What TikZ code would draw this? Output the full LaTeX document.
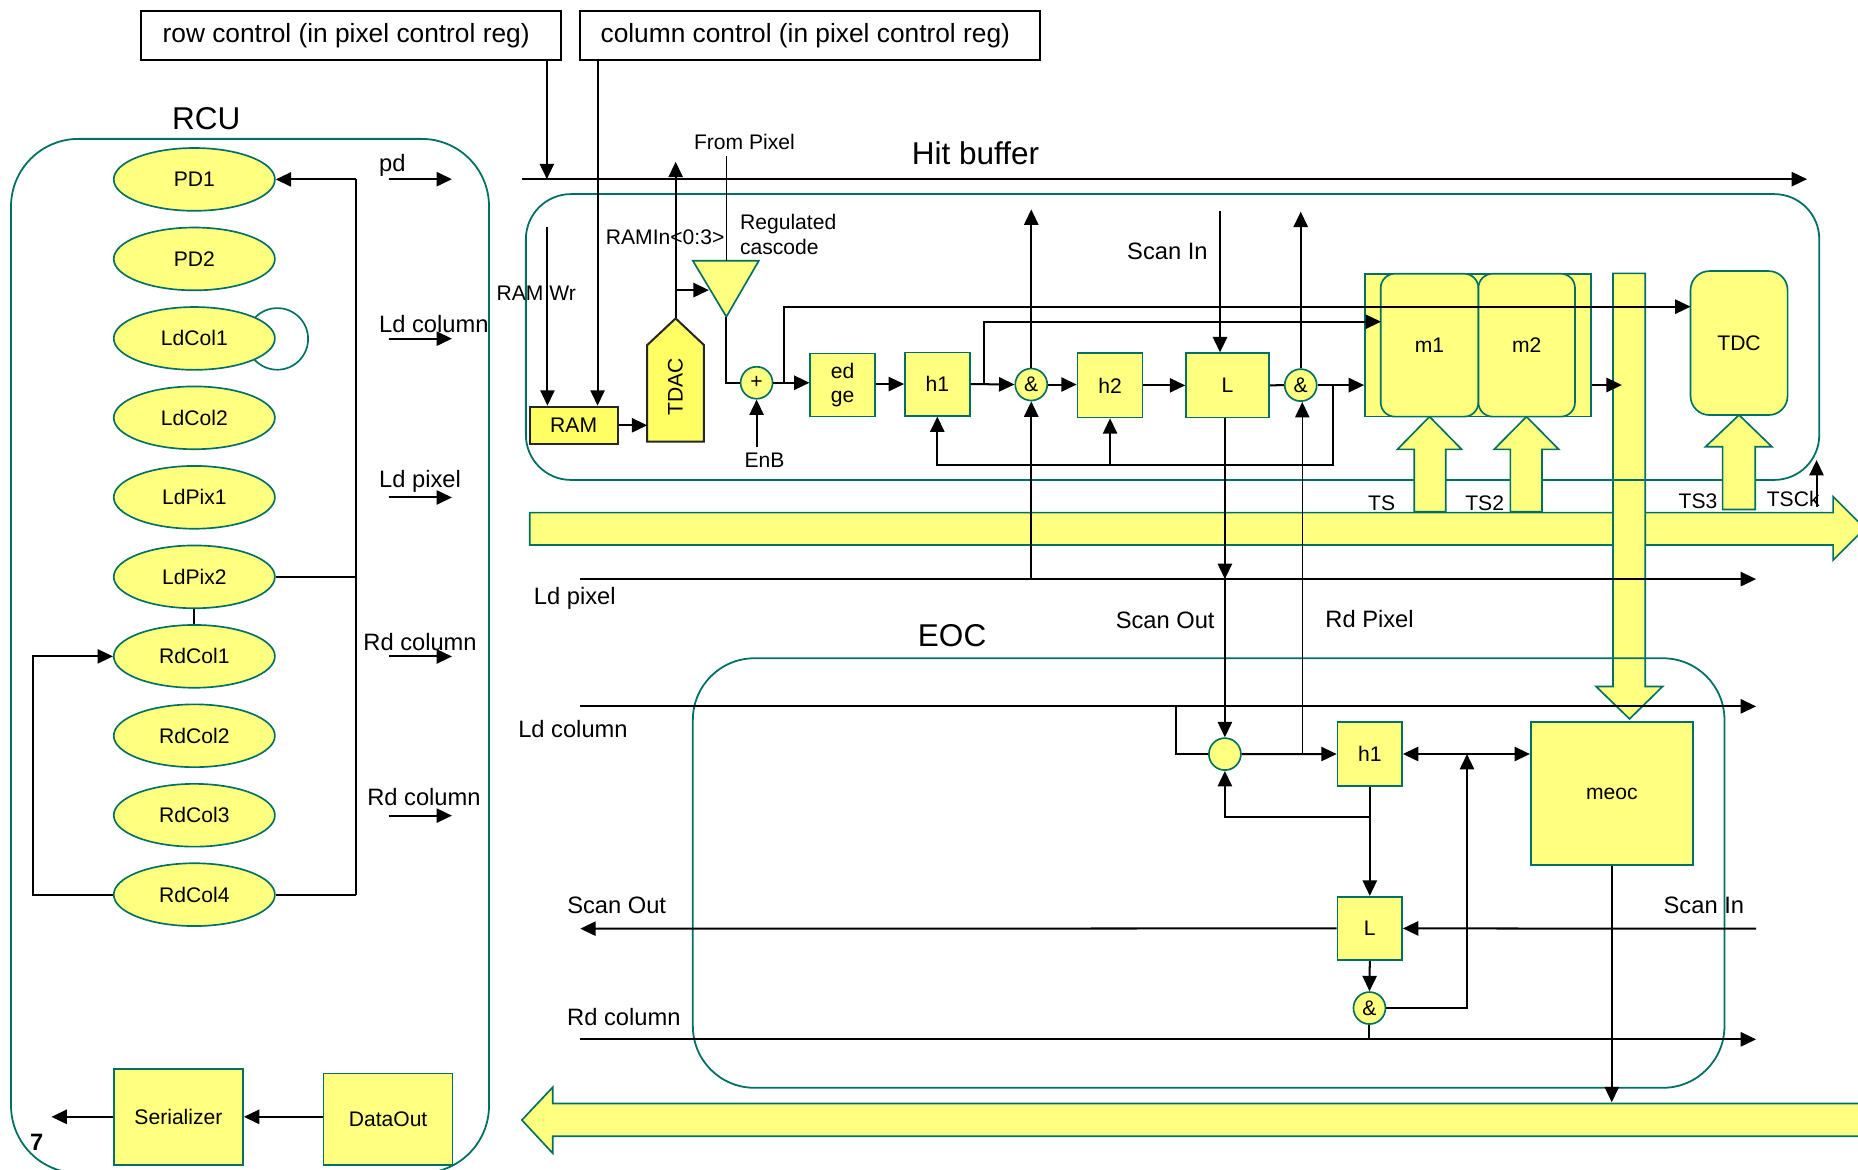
\documentclass[tikz,border=0pt]{standalone}
\usepackage{fontspec}
\setmainfont{Liberation Sans}
\usetikzlibrary{arrows.meta,shapes.geometric}
\definecolor{ly}{RGB}{255,255,128}
\definecolor{by}{RGB}{255,255,100}
\definecolor{tl}{RGB}{0,112,100}
\newcommand\FontA{\fontsize{8.9pt}{10.5pt}\selectfont}
\newcommand\FontB{\fontsize{10pt}{12pt}\selectfont}
\newcommand\FontC{\fontsize{11.1pt}{13pt}\selectfont}
\newcommand\FontD{\fontsize{13.3pt}{16pt}\selectfont}
\begin{document}
\begin{tikzpicture}[x=0.5pt,y=-0.5pt,
  >={Triangle[length=6.5pt,width=6pt]},
  sig/.style={draw=black,line width=0.85pt},
  ar/.style={sig,->},
  dar/.style={sig,<->},
  thinar/.style={draw=black,line width=0.6pt,->},
  yb/.style={draw=tl,fill=ly,line width=0.7pt},
  tlbox/.style={draw=tl,line width=0.75pt},
  topbox/.style={draw=black,line width=0.85pt,inner sep=0pt,font=\FontC},
  ttl/.style={inner sep=0pt,font=\FontD},
  lbl/.style={inner sep=0pt,font=\FontB},
  slbl/.style={inner sep=0pt,font=\FontA},
  ell/.style={ellipse,draw=tl,fill=ly,line width=0.7pt,minimum width=68pt,minimum height=26.5pt,inner sep=0pt,font=\FontA},
  ybox/.style={yb,inner sep=0pt,font=\FontA},
  bbox/.style={draw=black!85,fill=by,line width=0.85pt,inner sep=0pt,font=\FontA},
  gate/.style={circle,yb,minimum size=13.5pt,inner sep=0pt,font=\FontA}]
\fill[white] (0,0) rectangle (1568,987);
\useasboundingbox (0,0) rectangle (1568,987);
\clip (0,0) rectangle (1568,987);

% ---------- big yellow bus arrows ----------
\draw[yb] (447,432.6) -- (1547,432.6) -- (1547,419.1) -- (1573.8,445.9) -- (1547,472.6) -- (1547,459.9) -- (447,459.9) -- cycle;
\draw[yb] (1590,931.3) -- (466.5,931.3) -- (466.5,917.5) -- (440.4,945.2) -- (466.5,973.3) -- (466.5,958.9) -- (1590,958.9) -- cycle;
\draw[yb] (1361.2,230.7) -- (1388.5,230.7) -- (1388.5,579.4) -- (1403,579.4) -- (1375.2,606.7) -- (1347,579.4) -- (1361.2,579.4) -- cycle;

% ---------- outlines ----------
\draw[tlbox,rounded corners=28.5pt] (9.3,117.2) rectangle (412.7,990);
\draw[tlbox,rounded corners=19pt] (443.8,163.8) rectangle (1535.3,405);
\draw[tlbox,rounded corners=26pt] (584.7,555.5) rectangle (1455.3,918);

% ---------- TS block arrows ----------
\draw[yb] (1193.5,431.8) -- (1193.5,379.2) -- (1179.3,379.2) -- (1206.4,351.6) -- (1233.5,379.2) -- (1220.1,379.2) -- (1220.1,431.8) -- cycle;
\draw[yb] (1274.6,431.8) -- (1274.6,379.2) -- (1260.9,379.2) -- (1288.2,351.6) -- (1315.4,379.2) -- (1301.3,379.2) -- (1301.3,431.8) -- cycle;
\draw[yb] (1453.7,430) -- (1453.7,377) -- (1439.3,377) -- (1467.6,350.2) -- (1495.3,377) -- (1481.2,377) -- (1481.2,430) -- cycle;

% ---------- titles and top boxes ----------
\node[topbox,minimum width=177pt,minimum height=20.85pt] (rowc) at (296.1,29.8) {\hspace*{-4pt}row control (in pixel control reg)};
\node[topbox,minimum width=194.1pt,minimum height=20.85pt] (colc) at (683.6,29.8) {\hspace*{-4pt}column control (in pixel control reg)};
\node[ttl] (rcuT) at (174,100) {RCU};
\node[ttl] (hbT) at (823.2,129.4) {Hit buffer};
\node[ttl] (eocT) at (803.5,536) {EOC};

% ---------- RCU ----------
\draw[tl,line width=0.7pt] (234,286) circle [radius=13pt];
\node[ell] (pd1) at (164,151.4) {PD1};
\node[ell] (pd2) at (164,218.5) {PD2};
\node[ell] (ldcol1) at (164,285.6) {LdCol1};
\node[ell] (ldcol2) at (164,352.6) {LdCol2};
\node[ell] (ldpix1) at (164,419.7) {LdPix1};
\node[ell] (ldpix2) at (164,486.8) {LdPix2};
\node[ell] (rdcol1) at (164,553.9) {RdCol1};
\node[ell] (rdcol2) at (164,620.9) {RdCol2};
\node[ell] (rdcol3) at (164,688) {RdCol3};
\node[ell] (rdcol4) at (164,755) {RdCol4};

\coordinate (busT) at (300.3,151.4);
\coordinate (busB) at (300.3,755);
\draw[ar] (busT) -- (pd1.east);
\draw[sig] (busT) -- (busB);
\draw[sig] (ldpix2.east) -- (ldpix2.east -| busT);
\draw[sig] (rdcol4.east) -- (busB);
\draw[sig] (ldpix2.south) -- (rdcol1.north);
\draw[ar] (rdcol4.west) -- ++(-67.7,0) |- (rdcol1.west);

\coordinate (a1s) at (328,151.2); \coordinate (a1e) at (381.4,151.2);
\coordinate (a2s) at (328,285.8); \coordinate (a2e) at (381.4,285.8);
\coordinate (a3s) at (328,419.8); \coordinate (a3e) at (381.4,419.8);
\coordinate (a4s) at (328,554);   \coordinate (a4e) at (381.4,554);
\coordinate (a5s) at (328,688.3); \coordinate (a5e) at (381.4,688.3);
\draw[ar] (a1s) -- (a1e);
\draw[ar] (a2s) -- (a2e);
\draw[ar] (a3s) -- (a3e);
\draw[ar] (a4s) -- (a4e);
\draw[ar] (a5s) -- (a5e);
\node[lbl,anchor=west] (lpd) at (319.6,139.5) {pd};
\node[lbl,anchor=west] (lldc) at (319.6,273.8) {Ld column};
\node[lbl,anchor=west] (lldp) at (319.6,406.5) {Ld pixel};
\node[lbl,anchor=west] (lrdc1) at (306.3,542.2) {Rd column};
\node[lbl,anchor=west] (lrdc2) at (309.6,672.2) {Rd column};

\node[ybox,minimum width=54.5pt,minimum height=40.5pt] (ser) at (150.6,942.5) {Serializer};
\node[ybox,minimum width=54.5pt,minimum height=38.5pt] (dout) at (327.5,944.5) {DataOut};
\coordinate (serOut) at (43.4,942.5);
\draw[ar] (dout.west |- ser.east) -- (ser.east);
\draw[ar] (ser.west) -- (serOut);
\node[inner sep=0pt,font=\FontB\bfseries] (seven) at (31,964) {7};

% ---------- Hit buffer ----------
\coordinate (pdL) at (440.4,151.2);
\coordinate (pdR) at (1525,151.2);
\coordinate (rowx) at (461.5,0);
\coordinate (colx) at (504.3,0);

\node[bbox,minimum width=37.1pt,minimum height=15.7pt] (ram) at (484.1,358.9) {RAM};
\draw[draw=black!85,fill=by,line width=0.85pt] (546.2,372.7) -- (546.2,291.2) -- (570.2,268.7) -- (594.1,291.2) -- (594.1,372.7) -- cycle;
\node[slbl,rotate=90] (tdac) at (570,326.5) {TDAC};
\coordinate (tdacTip) at (570.2,268.7);
\coordinate (tdacIn) at (546.2,358.9);
\coordinate (tdacBr) at (570.2,244.8);
\coordinate (ramInT) at (570.2,136.5);

\draw[yb] (584.7,220) -- (640.4,220) -- (613,267.3) -- cycle;
\coordinate (triTop) at (613,220);
\coordinate (triTip) at (613,267.3);
\coordinate (triIn) at (598.2,244.8);
\coordinate (fpT) at (613,131.7);

\node[gate] (plus) at (638.5,323) {+};
\node[ybox,minimum width=27.3pt,minimum height=26.7pt,align=center] (edge) at (711.1,324.9) {ed\\ge};
\node[ybox,minimum width=27.35pt,minimum height=26.7pt] (h1) at (791,324.1) {h1};
\node[gate] (and1) at (870.3,324.5) {\&};
\node[ybox,minimum width=27.5pt,minimum height=27.1pt] (h2) at (936.8,325.2) {h2};
\node[ybox,minimum width=35pt,minimum height=27.15pt] (L) at (1035.9,325.2) {L};
\node[gate] (and2) at (1097.7,325) {\&};
\node[yb,minimum width=95.45pt,minimum height=60.3pt,inner sep=0pt] (mblk) at (1247.35,291.3) {};
\node[ybox,rounded corners=6pt,minimum width=41.2pt,minimum height=60.3pt] (m1) at (1206.4,291.3) {m1};
\node[ybox,rounded corners=6pt,minimum width=40.75pt,minimum height=60.3pt] (m2) at (1288.4,291.3) {m2};
\node[ybox,rounded corners=8pt,minimum width=40.95pt,minimum height=60.75pt] (tdc) at (1467.6,289.5) {TDC};

\draw[ar] (pdL) -- (pdR);
\draw[ar] (rowc.south -| rowx) -- (rowx |- pdL);
\draw[ar] (colc.south -| colx) -- (colx |- ram.north);
\coordinate (ramwrT) at (462,191.2);
\draw[ar] (ramwrT) -- (ramwrT |- ram.north);
\draw[ar] (ram.east) -- (tdacIn);
\draw[ar] (tdacTip) -- (ramInT);
\draw[ar] (tdacBr) -- (triIn);
\draw[draw=black,line width=0.6pt] (fpT) -- (triTop);
\draw[sig] (triTip) |- (plus.west);
\coordinate (enbB) at (638.5,377);
\draw[ar] (enbB) -- (plus.south);
\draw[ar] (plus.east) -- (plus.east -| edge.west);
\coordinate (brA) at (662,323);
\coordinate (tdcIn) at (1426.7,258.8);
\draw[ar] (brA) |- (tdcIn);
\draw[ar] (edge.east |- h1.west) -- (h1.west);
\draw[ar] (h1.east) -- (and1.west);
\coordinate (brB) at (830.7,324.3);
\coordinate (m1In) at (1165.4,271.5);
\draw[ar] (brB) |- (m1In);
\coordinate (and1T) at (870.3,176.7);
\draw[ar] (and1.north) -- (and1T);
\draw[ar] (and1.east) -- (and1.east -| h2.west);
\draw[ar] (h2.east) -- (L.west);
\coordinate (siT) at (1029.6,177.7);
\draw[ar] (siT) -- (siT |- L.north);
\draw[sig] (L.east) -- (and2.west);
\coordinate (and2T) at (1097.7,178.6);
\draw[ar] (and2.north) -- (and2T);
\draw[ar] (and2.east) -- (and2.east -| mblk.west);
\coordinate (fbR) at (1124.6,325);
\coordinate (fbRB) at (1124.6,392.2);
\draw[ar] (fbR) -- (fbRB) -| (h1.south);
\draw[ar] (h2.south |- fbRB) -- (h2.south);
\coordinate (barIn) at (1368.7,324.9);
\draw[ar] (mblk.east |- barIn) -- (barIn);
\coordinate (tsckB) at (1533,428);
\coordinate (tsckT) at (1533,388.2);
\draw[ar] (tsckB) -- (tsckT);

\node[slbl] (lramwr) at (452.6,247.3) {RAM Wr};
\node[slbl] (lramin) at (561.3,199.8) {RAMIn<0:3>};
\node[slbl] (lfp) at (628.2,119.6) {From Pixel};
\node[slbl,anchor=west,align=left] (lreg) at (624.2,197.6) {Regulated\\cascode};
\node[slbl] (lenb) at (645.2,388.2) {EnB};
\node[lbl] (lscanin) at (985.2,211.8) {Scan In};
\node[slbl] (lts) at (1166,424.8) {TS};
\node[slbl] (lts2) at (1252.9,424.8) {TS2};
\node[slbl] (lts3) at (1433,423.3) {TS3};
\node[slbl] (ltsck) at (1513.3,421.4) {TSCk};

% ---------- middle lines ----------
\coordinate (lpL) at (489.8,488.7);
\coordinate (lpR) at (1482,488.7);
\draw[ar] (lpL) -- (lpR);
\node[lbl,anchor=west] (llp) at (450.2,505) {Ld pixel};
\coordinate (and1B) at (870.3,488.7);
\draw[ar] (and1B) -- (and1.south);

% ---------- EOC ----------
\node[gate] (circ) at (1033.7,636.4) {};
\node[ybox,minimum width=27.25pt,minimum height=26.75pt] (eh1) at (1156,636.3) {h1};
\node[ybox,minimum width=68.4pt,minimum height=60.3pt] (meoc) at (1360.2,669.8) {meoc};
\node[ybox,minimum width=27.25pt,minimum height=26.8pt] (eL) at (1156,783.5) {L};
\node[gate] (eand) at (1155.7,850.7) {\&};

\coordinate (soX) at (1033.7,0);
\draw[ar] (L.south -| soX) -- (soX |- lpL);
\draw[ar] (soX |- lpL) -- (circ.north);
\coordinate (rpB) at (1099,636.3);
\draw[thinar] (rpB) -- (rpB |- and2.south);
\node[lbl] (lso) at (983.3,523.2) {Scan Out};
\node[lbl] (lrp) at (1155.8,522.8) {Rd Pixel};

\coordinate (lcL) at (489.8,596.1);
\coordinate (lcR) at (1482,596.1);
\draw[ar] (lcL) -- (lcR);
\node[lbl,anchor=west] (llc) at (437,615.4) {Ld column};
\coordinate (lcBr) at (992.6,596.1);
\draw[draw=black,line width=0.7pt] (lcBr) |- (circ.west);
\draw[ar] (circ.east) -- (eh1.west);
\draw[dar] (eh1.east) -- (eh1.east -| meoc.west);
\draw[ar] (eh1.south) -- (eL.north);
\coordinate (fb2) at (1156,689.6);
\draw[ar] (fb2) -| (circ.south);
\coordinate (esiR) at (1482,783.7);
\draw[ar] (esiR) -- (eL.east);
\node[lbl] (lesi) at (1437.9,764.1) {Scan In};
\coordinate (esoL) at (489.7,783.7);
\draw[ar] (eL.west) -- (esoL);
\node[lbl] (leso) at (520.4,764.1) {Scan Out};
\draw[ar] (eL.south) -- (eand.north);
\coordinate (jn) at (1238,850.7);
\draw[ar] (eand.east) -- (jn) -- (jn |- eh1.east);
\coordinate (rcL) at (489.8,877.1);
\coordinate (rcR) at (1482,877.1);
\draw[ar] (rcL) -- (rcR);
\draw[sig] (eand.south) -- (eand.south |- rcL);
\node[lbl] (lrc) at (526.5,858.5) {Rd column};
\coordinate (moB) at (1360.2,930.2);
\draw[ar] (meoc.south) -- (moB);
\end{tikzpicture}
\end{document}
